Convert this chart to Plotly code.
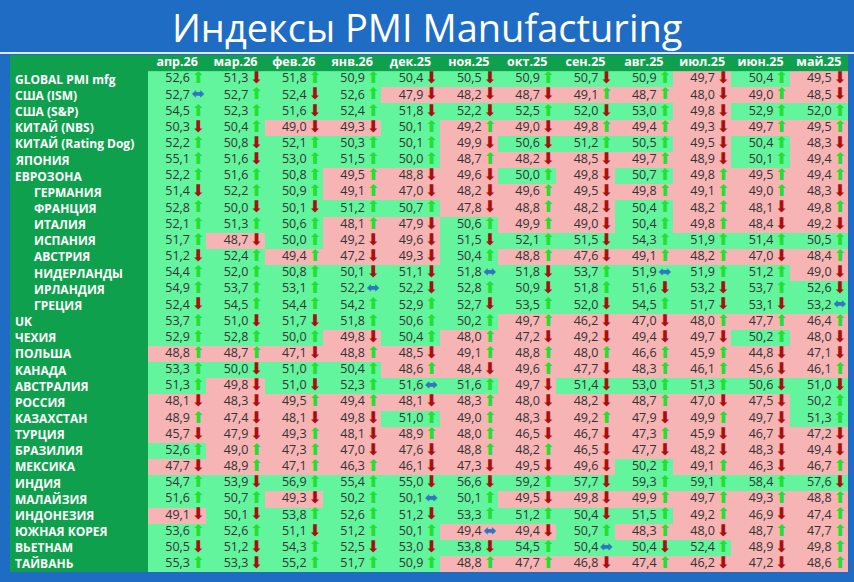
import plotly.graph_objects as go

W, H = 854, 582

months = ["апр.26", "мар.26", "фев.26", "янв.26", "дек.25", "ноя.25",
          "окт.25", "сен.25", "авг.25", "июл.25", "июн.25", "май.25"]

countries = ["GLOBAL PMI mfg", "США (ISM)", "США (S&P)", "КИТАЙ (NBS)", "КИТАЙ (Rating Dog)",
             "ЯПОНИЯ", "ЕВРОЗОНА", "ГЕРМАНИЯ", "ФРАНЦИЯ", "ИТАЛИЯ", "ИСПАНИЯ", "АВСТРИЯ",
             "НИДЕРЛАНДЫ", "ИРЛАНДИЯ", "ГРЕЦИЯ", "UK", "ЧЕХИЯ", "ПОЛЬША", "КАНАДА",
             "АВСТРАЛИЯ", "РОССИЯ", "КАЗАХСТАН", "ТУРЦИЯ", "БРАЗИЛИЯ", "МЕКСИКА", "ИНДИЯ",
             "МАЛАЙЗИЯ", "ИНДОНЕЗИЯ", "ЮЖНАЯ КОРЕЯ", "ВЬЕТНАМ", "ТАЙВАНЬ"]
indented = ["ГЕРМАНИЯ", "ФРАНЦИЯ", "ИТАЛИЯ", "ИСПАНИЯ", "АВСТРИЯ", "НИДЕРЛАНДЫ",
            "ИРЛАНДИЯ", "ГРЕЦИЯ"]

pmi = [
    [52.6, 51.3, 51.8, 50.9, 50.4, 50.5, 50.9, 50.7, 50.9, 49.7, 50.4, 49.5],
    [52.7, 52.7, 52.4, 52.6, 47.9, 48.2, 48.7, 49.1, 48.7, 48.0, 49.0, 48.5],
    [54.5, 52.3, 51.6, 52.4, 51.8, 52.2, 52.5, 52.0, 53.0, 49.8, 52.9, 52.0],
    [50.3, 50.4, 49.0, 49.3, 50.1, 49.2, 49.0, 49.8, 49.4, 49.3, 49.7, 49.5],
    [52.2, 50.8, 52.1, 50.3, 50.1, 49.9, 50.6, 51.2, 50.5, 49.5, 50.4, 48.3],
    [55.1, 51.6, 53.0, 51.5, 50.0, 48.7, 48.2, 48.5, 49.7, 48.9, 50.1, 49.4],
    [52.2, 51.6, 50.8, 49.5, 48.8, 49.6, 50.0, 49.8, 50.7, 49.8, 49.5, 49.4],
    [51.4, 52.2, 50.9, 49.1, 47.0, 48.2, 49.6, 49.5, 49.8, 49.1, 49.0, 48.3],
    [52.8, 50.0, 50.1, 51.2, 50.7, 47.8, 48.8, 48.2, 50.4, 48.2, 48.1, 49.8],
    [52.1, 51.3, 50.6, 48.1, 47.9, 50.6, 49.9, 49.0, 50.4, 49.8, 48.4, 49.2],
    [51.7, 48.7, 50.0, 49.2, 49.6, 51.5, 52.1, 51.5, 54.3, 51.9, 51.4, 50.5],
    [51.2, 52.4, 49.4, 47.2, 49.3, 50.4, 48.8, 47.6, 49.1, 48.2, 47.0, 48.4],
    [54.4, 52.0, 50.8, 50.1, 51.1, 51.8, 51.8, 53.7, 51.9, 51.9, 51.2, 49.0],
    [54.9, 53.7, 53.1, 52.2, 52.2, 52.8, 50.9, 51.8, 51.6, 53.2, 53.7, 52.6],
    [52.4, 54.5, 54.4, 54.2, 52.9, 52.7, 53.5, 52.0, 54.5, 51.7, 53.1, 53.2],
    [53.7, 51.0, 51.7, 51.8, 50.6, 50.2, 49.7, 46.2, 47.0, 48.0, 47.7, 46.4],
    [52.9, 52.8, 50.0, 49.8, 50.4, 48.0, 47.2, 49.2, 49.4, 49.7, 50.2, 48.0],
    [48.8, 48.7, 47.1, 48.8, 48.5, 49.1, 48.8, 48.0, 46.6, 45.9, 44.8, 47.1],
    [53.3, 50.0, 51.0, 50.4, 48.6, 48.4, 49.6, 47.7, 48.3, 46.1, 45.6, 46.1],
    [51.3, 49.8, 51.0, 52.3, 51.6, 51.6, 49.7, 51.4, 53.0, 51.3, 50.6, 51.0],
    [48.1, 48.3, 49.5, 49.4, 48.1, 48.3, 48.0, 48.2, 48.7, 47.0, 47.5, 50.2],
    [48.9, 47.4, 48.1, 49.8, 51.0, 49.0, 48.3, 49.2, 47.9, 49.9, 49.7, 51.3],
    [45.7, 47.9, 49.3, 48.1, 48.9, 48.0, 46.5, 46.7, 47.3, 45.9, 46.7, 47.2],
    [52.6, 49.0, 47.3, 47.0, 47.6, 48.8, 48.2, 46.5, 47.7, 48.2, 48.3, 49.4],
    [47.7, 48.9, 47.1, 46.3, 46.1, 47.3, 49.5, 49.6, 50.2, 49.1, 46.3, 46.7],
    [54.7, 53.9, 56.9, 55.4, 55.0, 56.6, 59.2, 57.7, 59.3, 59.1, 58.4, 57.6],
    [51.6, 50.7, 49.3, 50.2, 50.1, 50.1, 49.5, 49.8, 49.9, 49.7, 49.3, 48.8],
    [49.1, 50.1, 53.8, 52.6, 51.2, 53.3, 51.2, 50.4, 51.5, 49.2, 46.9, 47.4],
    [53.6, 52.6, 51.1, 51.2, 50.1, 49.4, 49.4, 50.7, 48.3, 48.0, 48.7, 47.7],
    [50.5, 51.2, 54.3, 52.5, 53.0, 53.8, 54.5, 50.4, 50.4, 52.4, 48.9, 49.8],
    [55.3, 53.3, 55.2, 51.7, 50.9, 48.8, 47.7, 46.8, 47.4, 46.2, 47.2, 48.6],
]

# direction for май.25 (previous month not shown): 1 up, -1 down, 0 flat
last_dir = [-1, -1, 1, 1, -1, 1, 1, -1, 1, -1, 1, 1, -1, -1, 0, 1,
            -1, -1, 1, -1, 1, 1, -1, -1, 1, -1, 1, 1, 1, 1, 1]

n_rows, n_cols = len(countries), len(months)

# layout geometry (pixels)
x0, x1 = 148, 848
y_top, y_bot = 55, 572

BLUE = "#1F6CC4"
DARK_GREEN = "#0FA04E"
LIGHT_GREEN = "#62F59E"
PINK = "#F6B4B4"

z = [[1 if v >= 50 else 0 for v in row] for row in pmi]

val_x, val_y, val_t = [], [], []
arr = {1: ([], [], "⬆", "#22E030"), -1: ([], [], "⬇", "#A81010"), 0: ([], [], "⬌", "#2E78C0")}
for r, row in enumerate(pmi):
    for c, v in enumerate(row):
        val_x.append(c + 0.22)
        val_y.append(r)
        val_t.append(f"{v:.1f}".replace(".", ","))
        if c + 1 < n_cols:
            d = (v > row[c + 1]) - (v < row[c + 1])
        else:
            d = last_dir[r]
        arr[d][0].append(c + 0.36)
        arr[d][1].append(r)

fig = go.Figure()
fig.add_trace(go.Heatmap(
    z=z, x=list(range(n_cols)), y=list(range(n_rows)),
    colorscale=[[0, PINK], [0.5, PINK], [0.5, LIGHT_GREEN], [1, LIGHT_GREEN]],
    zmin=0, zmax=1, showscale=False, hoverinfo="skip",
))
fig.add_trace(go.Scatter(
    x=val_x, y=val_y, text=val_t, mode="text", textposition="middle left",
    textfont=dict(family="Open Sans", size=12.5, color="#333333"), hoverinfo="skip",
))
for d, (xs, ys, sym, col) in arr.items():
    fig.add_trace(go.Scatter(
        x=xs, y=ys, text=[sym] * len(xs), mode="text",
        textfont=dict(family="DejaVu Sans", size=16, color=col), hoverinfo="skip",
    ))
fig.add_trace(go.Scatter(
    x=list(range(n_cols)), y=[-1] * n_cols, text=months, mode="text",
    textfont=dict(family="Open Sans", size=12.5, color="white", weight="bold"),
    hoverinfo="skip",
))

annotations = [dict(
    text="Индексы PMI Manufacturing", x=0.5, y=1 - 27 / H, xref="paper", yref="paper",
    yanchor="middle", showarrow=False, font=dict(family="Open Sans", size=38, color="white"),
)]
for r, name in enumerate(countries):
    annotations.append(dict(
        text=f"<b>{name}</b>", x=(32 if name in indented else 13) / W, y=r,
        xref="paper", yref="y", xanchor="left", showarrow=False,
        font=dict(family="Open Sans", size=12, color="white"),
    ))

shapes = [
    dict(type="rect", xref="paper", yref="paper", x0=10 / W, x1=x1 / W,
         y0=1 - y_bot / H, y1=1 - y_top / H, fillcolor=DARK_GREEN, line_width=0, layer="below"),
    dict(type="rect", xref="paper", yref="paper", x0=0, x1=1,
         y0=1 - 54 / H, y1=1 - 52 / H, fillcolor="#DDE8F5", line_width=0, layer="below"),
]

fig.update_layout(
    width=W, height=H, margin=dict(l=0, r=0, t=0, b=0),
    paper_bgcolor=BLUE, plot_bgcolor="rgba(0,0,0,0)", showlegend=False,
    xaxis=dict(domain=[x0 / W, x1 / W], range=[-0.5, n_cols - 0.5], visible=False, fixedrange=True),
    yaxis=dict(domain=[1 - y_bot / H, 1 - y_top / H], range=[n_rows - 0.5, -1.5],
               visible=False, fixedrange=True),
    annotations=annotations, shapes=shapes,
)

fig.write_html("out.html", config={"displayModeBar": False},
               post_script="document.body.style.margin='0';")
